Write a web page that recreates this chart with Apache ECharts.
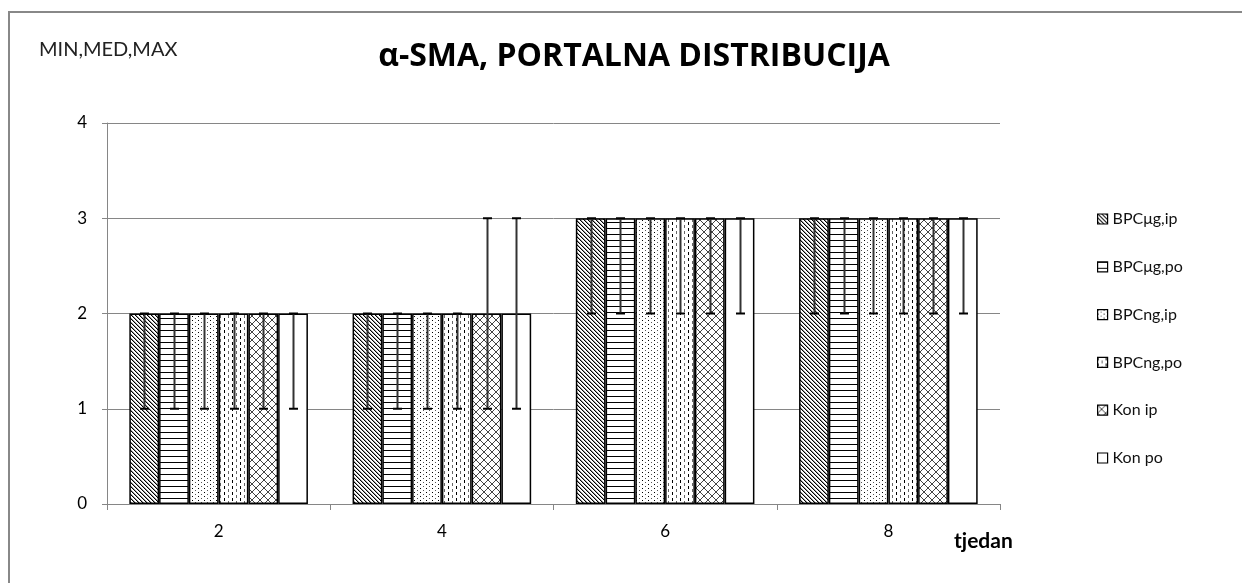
<!DOCTYPE html>
<html>
<head>
<meta charset="utf-8">
<script src="https://cdn.jsdelivr.net/npm/echarts@6/dist/echarts.min.js"></script>
<style>html,body{margin:0;padding:0;background:#fff;}#c{width:1242px;height:583px;}</style>
</head>
<body>
<div id="c"></div>
<script>
// ---- data ----
const categories = ['2', '4', '6', '8'];
const seriesNames = ['BPCμg,ip', 'BPCμg,po', 'BPCng,ip', 'BPCng,po', 'Kon ip', 'Kon po'];
// medians
const medBPCugIp = [2, 2, 3, 3];
const medBPCugPo = [2, 2, 3, 3];
const medBPCngIp = [2, 2, 3, 3];
const medBPCngPo = [2, 2, 3, 3];
const medKonIp   = [2, 2, 3, 3];
const medKonPo   = [2, 2, 3, 3];
// minimums
const minBPCugIp = [1, 1, 2, 2];
const minBPCugPo = [1, 1, 2, 2];
const minBPCngIp = [1, 1, 2, 2];
const minBPCngPo = [1, 1, 2, 2];
const minKonIp   = [1, 1, 2, 2];
const minKonPo   = [1, 1, 2, 2];
// maximums
const maxBPCugIp = [2, 2, 3, 3];
const maxBPCugPo = [2, 2, 3, 3];
const maxBPCngIp = [2, 2, 3, 3];
const maxBPCngPo = [2, 2, 3, 3];
const maxKonIp   = [2, 3, 3, 3];
const maxKonPo   = [2, 3, 3, 3];
const yTicks = [0, 1, 2, 3, 4];

const medians = [medBPCugIp, medBPCugPo, medBPCngIp, medBPCngPo, medKonIp, medKonPo];
const mins = [minBPCugIp, minBPCugPo, minBPCngIp, minBPCngPo, minKonIp, minKonPo];
const maxs = [maxBPCugIp, maxBPCugPo, maxBPCngIp, maxBPCngPo, maxKonIp, maxKonPo];

// ---- patterns ----
function tile(w, h, draw) {
  const cv = document.createElement('canvas');
  cv.width = w; cv.height = h;
  const ctx = cv.getContext('2d');
  ctx.fillStyle = '#fff';
  ctx.fillRect(0, 0, w, h);
  draw(ctx);
  return { image: cv, repeat: 'repeat' };
}
const patterns = [
  tile(4, 4, c => { c.fillStyle = '#000'; for (let i = 0; i < 4; i++) c.fillRect(i, i, 1, 1); c.fillStyle = '#999'; for (let i = 0; i < 4; i++) c.fillRect((i + 1) % 4, i, 1, 1); }),
  tile(4, 6, c => { c.fillStyle = '#000'; c.fillRect(0, 0, 4, 1); }),
  tile(6, 4, c => { c.fillStyle = '#000'; c.fillRect(0, 0, 1, 1); c.fillStyle = '#555'; c.fillRect(3, 2, 1, 1); }),
  tile(8, 6, c => { c.fillStyle = '#000'; c.fillRect(0, 0, 1, 3); c.fillStyle = '#666'; c.fillRect(4, 3, 1, 3); }),
  tile(8, 8, c => { c.fillStyle = '#444'; for (let i = 0; i < 8; i++) { c.fillRect(i, i, 1, 1); c.fillRect(7 - i, i, 1, 1); } }),
  '#ffffff'
];

const catGap = 0.2;
const nBars = seriesNames.length;

const barSeries = seriesNames.map((name, k) => ({
  name: name,
  type: 'bar',
  barGap: '0%',
  barCategoryGap: (catGap * 100) + '%',
  data: medians[k],
  itemStyle: { color: patterns[k], borderColor: '#000', borderWidth: 1.5 },
  z: 2
}));

const errData = [];
for (let k = 0; k < nBars; k++) {
  for (let i = 0; i < categories.length; i++) {
    errData.push([i, mins[k][i], maxs[k][i], k]);
  }
}

const errSeries = {
  name: 'err',
  type: 'custom',
  z: 5,
  encode: { x: 0, y: [1, 2] },
  data: errData,
  renderItem: function (params, api) {
    const cat = api.value(0), lo = api.value(1), hi = api.value(2), k = api.value(3);
    const center = api.coord([cat, 0]);
    const band = api.size([1, 0])[0];
    const bw = band * (1 - catGap) / nBars;
    const x = Math.round(center[0] - nBars * bw / 2 + (k + 0.5) * bw) + 0.5;
    const yLo = api.coord([cat, lo])[1];
    const yHi = api.coord([cat, hi])[1];
    const cap = 4.5;
    return {
      type: 'group',
      children: [
        { type: 'line', shape: { x1: x, y1: yLo, x2: x, y2: yHi }, style: { stroke: '#333', lineWidth: 2 } },
        { type: 'line', shape: { x1: x - cap, y1: yLo, x2: x + cap, y2: yLo }, style: { stroke: '#000', lineWidth: 2 } },
        { type: 'line', shape: { x1: x - cap, y1: yHi, x2: x + cap, y2: yHi }, style: { stroke: '#000', lineWidth: 2 } }
      ]
    };
  }
};

const chart = echarts.init(document.getElementById('c'), null, { renderer: 'canvas' });
chart.setOption({
  animation: false,
  backgroundColor: '#fff',
  textStyle: { fontFamily: 'Lato' },
  graphic: [
    { type: 'polyline', silent: true, shape: { points: [[9, 600], [9, 12], [1250, 12]] }, style: { fill: null, stroke: '#888', lineWidth: 2 } },
    { type: 'text', x: 39, y: 40, style: { text: 'MIN,MED,MAX', font: '20px Lato', fill: '#222' } },
    { type: 'text', x: 954, y: 531, style: { text: 'tjedan', font: 'bold 21px Lato', fill: '#000' } }
  ],
  title: {
    text: 'α-SMA, PORTALNA DISTRIBUCIJA',
    left: 629, top: 36, textAlign: 'center',
    textStyle: { fontFamily: 'Open Sans', fontWeight: 'bold', fontSize: 32, color: '#000' }
  },
  legend: {
    data: seriesNames,
    orient: 'vertical',
    left: 1092, top: 206,
    itemWidth: 10, itemHeight: 10,
    itemGap: 31.8,
    icon: 'rect',
    itemStyle: { borderColor: '#000', borderWidth: 1.2 },
    textStyle: { fontFamily: 'Lato', fontSize: 16, color: '#111', lineHeight: 14 },
    selectedMode: false
  },
  grid: { left: 107, right: 242, top: 123, bottom: 79, containLabel: false },
  xAxis: {
    type: 'category',
    data: categories,
    boundaryGap: true,
    axisLine: { lineStyle: { color: '#868686', width: 1 } },
    axisTick: { show: true, length: 6, lineStyle: { color: '#868686' } },
    axisLabel: { color: '#000', fontSize: 17, margin: 19, fontFamily: 'Lato' },
    splitLine: { show: false }
  },
  yAxis: {
    type: 'value',
    min: yTicks[0], max: yTicks[yTicks.length - 1], interval: 1,
    axisLine: { show: true, lineStyle: { color: '#868686' } },
    axisTick: { show: true, length: 5, lineStyle: { color: '#868686' } },
    axisLabel: { color: '#000', fontSize: 17, margin: 20, fontFamily: 'Lato' },
    splitLine: { lineStyle: { color: '#868686', width: 1 } }
  },
  series: barSeries.concat([errSeries])
});
</script>
</body>
</html>
